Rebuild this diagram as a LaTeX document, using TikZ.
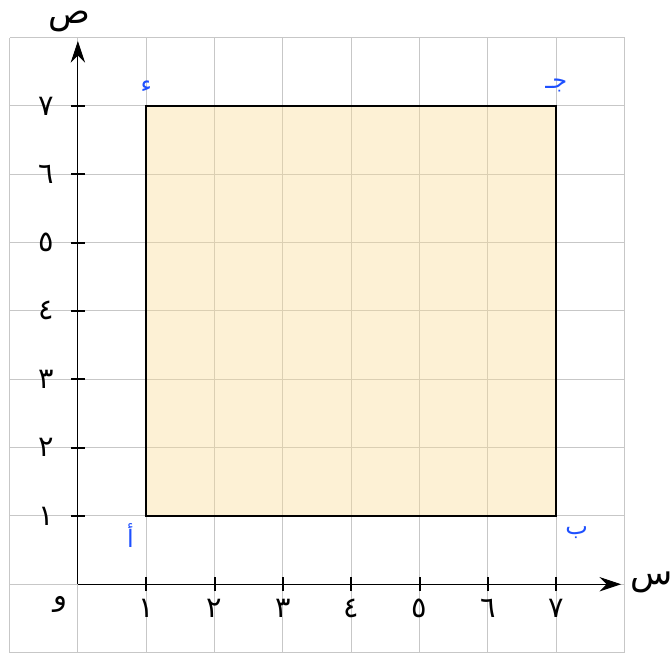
\documentclass[tikz,border=0pt]{standalone}
\usepackage{fontspec}
\newfontfamily\arabicfont[Script=Arabic]{DejaVu Sans}
\TeXXeTstate=1
\usetikzlibrary{arrows.meta,calc}
\definecolor{sqfill}{RGB}{250,220,150}
\definecolor{vblue}{RGB}{30,80,255}
\begin{document}
\begin{tikzpicture}[x=1cm,y=1cm,
	tick/.style={thick},
	axislbl/.style={font=\arabicfont\Large},
	numlbl/.style={font=\arabicfont\large},
	vertexlbl/.style={font=\arabicfont,text=vblue}]
	\useasboundingbox (-1.14,-1.054) rectangle (8.68,8.55);
	% grid
	\draw[black!22] (-1,-1) grid (8,8);
	% square
	\coordinate (A) at (1,1);
	\coordinate (B) at (7,1);
	\coordinate (C) at (7,7);
	\coordinate (D) at (1,7);
	\fill[sqfill,fill opacity=0.4] (A) rectangle (C);
	\draw[line width=1pt] (A) -- (B) -- (C) -- (D) -- cycle;
	% axes
	\coordinate (O) at (0,0);
	\coordinate (xend) at (7.95,0);
	\coordinate (yend) at (0,7.95);
	\draw[-{Stealth[length=9pt,width=6pt]}] (O) -- (xend);
	\draw[-{Stealth[length=9pt,width=6pt]}] (O) -- (yend);
	\node[axislbl] (xlbl) at (8.4,0.03) {\beginR س\endR};
	\node[axislbl] (ylbl) at (-0.12,8.24) {\beginR ص\endR};
	\node[numlbl] (olbl) at (-0.26,-0.3) {\beginR و\endR};
	\foreach \i/\d in {1/١,2/٢,3/٣,4/٤,5/٥,6/٦,7/٧}{
		\draw[tick] (\i,-0.1) -- (\i,0.1);
		\draw[tick] (-0.1,\i) -- (0.1,\i);
		\node[numlbl] (xt\i) at (\i,-0.36) {\d};
		\node[numlbl] (yt\i) at (-0.47,\i) {\d};
	}
	% vertices
	\node[vertexlbl] (Albl) at ($(A)+(-0.23,-0.28)$) {\beginR أ\endR};
	\node[vertexlbl] (Blbl) at ($(B)+(0.3,-0.25)$) {\beginR ب\endR};
	\node[vertexlbl] (Clbl) at ($(C)+(0,0.3)$) {\beginR جـ\endR};
	\node[vertexlbl] (Dlbl) at ($(D)+(0,0.28)$) {\beginR ء\endR};
\end{tikzpicture}
\end{document}
